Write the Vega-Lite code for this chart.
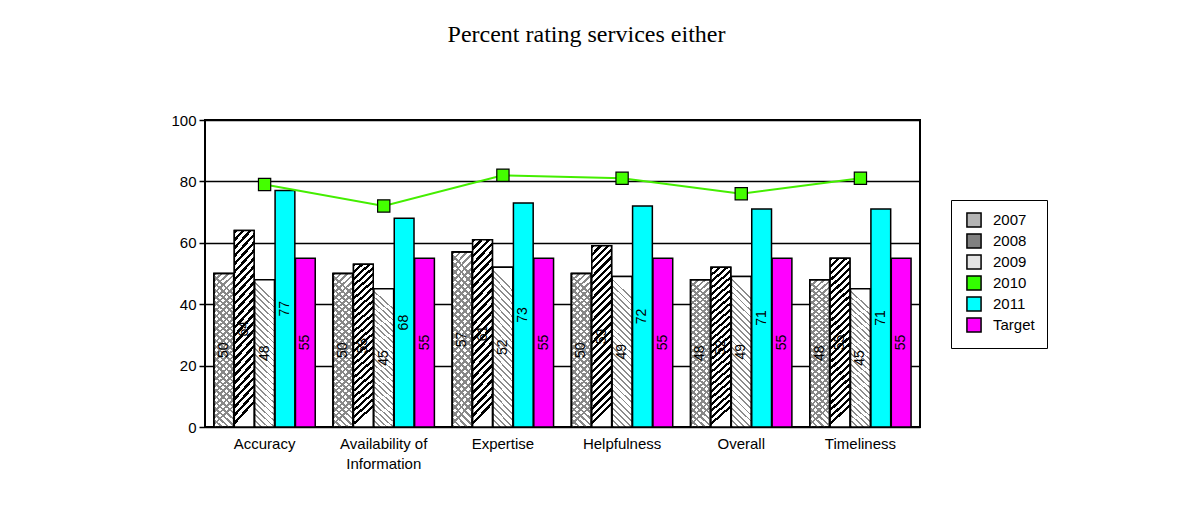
{
  "$schema": "https://vega.github.io/schema/vega-lite/v6.json",
  "width": 715,
  "height": 307,
  "autosize": {"type": "none"},
  "padding": {"left": 205, "top": 120, "right": 262, "bottom": 99},
  "background": "white",
  "title": {"text": "Percent rating services either", "font": "Liberation Serif", "fontSize": 24, "fontWeight": "normal", "color": "black", "anchor": "middle", "frame": "group", "dx": 24, "offset": 47, "baseline": "alphabetic"},
  "data": {"values": [
    {"category": "Accuracy", "series": "2007", "value": 50},
    {"category": "Accuracy", "series": "2008", "value": 64},
    {"category": "Accuracy", "series": "2009", "value": 48},
    {"category": "Accuracy", "series": "2010", "value": 79},
    {"category": "Accuracy", "series": "2011", "value": 77},
    {"category": "Accuracy", "series": "Target", "value": 55},
    {"category": "Availability of Information", "series": "2007", "value": 50},
    {"category": "Availability of Information", "series": "2008", "value": 53},
    {"category": "Availability of Information", "series": "2009", "value": 45},
    {"category": "Availability of Information", "series": "2010", "value": 72},
    {"category": "Availability of Information", "series": "2011", "value": 68},
    {"category": "Availability of Information", "series": "Target", "value": 55},
    {"category": "Expertise", "series": "2007", "value": 57},
    {"category": "Expertise", "series": "2008", "value": 61},
    {"category": "Expertise", "series": "2009", "value": 52},
    {"category": "Expertise", "series": "2010", "value": 82},
    {"category": "Expertise", "series": "2011", "value": 73},
    {"category": "Expertise", "series": "Target", "value": 55},
    {"category": "Helpfulness", "series": "2007", "value": 50},
    {"category": "Helpfulness", "series": "2008", "value": 59},
    {"category": "Helpfulness", "series": "2009", "value": 49},
    {"category": "Helpfulness", "series": "2010", "value": 81},
    {"category": "Helpfulness", "series": "2011", "value": 72},
    {"category": "Helpfulness", "series": "Target", "value": 55},
    {"category": "Overall", "series": "2007", "value": 48},
    {"category": "Overall", "series": "2008", "value": 52},
    {"category": "Overall", "series": "2009", "value": 49},
    {"category": "Overall", "series": "2010", "value": 76},
    {"category": "Overall", "series": "2011", "value": 71},
    {"category": "Overall", "series": "Target", "value": 55},
    {"category": "Timeliness", "series": "2007", "value": 48},
    {"category": "Timeliness", "series": "2008", "value": 55},
    {"category": "Timeliness", "series": "2009", "value": 45},
    {"category": "Timeliness", "series": "2010", "value": 81},
    {"category": "Timeliness", "series": "2011", "value": 71},
    {"category": "Timeliness", "series": "Target", "value": 55}
  ]},
  "encoding": {
    "x": {
      "field": "category", "type": "nominal",
      "sort": ["Accuracy", "Availability of Information", "Expertise", "Helpfulness", "Overall", "Timeliness"],
      "scale": {"paddingInner": 0.15, "paddingOuter": 0.075},
      "axis": {"title": null, "labelAngle": 0, "ticks": false, "domain": false, "labelPadding": 9, "labelLineHeight": 20,
               "labelExpr": "datum.value == 'Availability of Information' ? ['Availability of', 'Information'] : datum.value"}
    }
  },
  "layer": [
    {
      "layer": [
        {
          "transform": [{"filter": "datum.series != '2010'"}],
          "mark": {"type": "bar", "stroke": "black", "strokeWidth": 1.5},
          "encoding": {
            "xOffset": {"field": "series", "type": "nominal", "scale": {"domain": ["2007", "2008", "2009", "2011", "Target"], "paddingInner": 0.03}},
            "y": {"field": "value", "type": "quantitative", "scale": {"domain": [0, 100], "nice": false},
                  "axis": {"title": null, "values": [0, 20, 40, 60, 80, 100], "grid": true, "gridColor": "black", "gridWidth": 1.5, "gridOpacity": 1, "tickSize": 6, "tickWidth": 1.5, "tickColor": "black", "domain": false, "labelPadding": 3}},
            "color": {"field": "series", "type": "nominal",
              "scale": {"domain": ["2007", "2008", "2009", "2010", "2011", "Target"], "range": ["#b4b4b4", "#808080", "#e4e4e4", "#33ff00", "#00ffff", "#ff00ff"]},
              "legend": {"title": null, "orient": "none", "legendX": 746, "legendY": 80, "symbolType": "square", "symbolSize": 200, "symbolStrokeColor": "black", "symbolStrokeWidth": 1.5, "symbolOpacity": 1, "symbolOffset": 3, "labelFontSize": 15, "labelFont": "Liberation Sans", "labelColor": "black", "labelOffset": 11, "rowPadding": -1, "padding": 12, "strokeColor": "black",
                         "labelExpr": "datum.label + '\u00a0\u00a0\u00a0\u00a0'"}}
          }
        },
        {
          "transform": [{"filter": "datum.series == '2007'"}],
          "mark": {"type": "bar", "stroke": "black", "strokeWidth": 1.5,
            "fill": {"gradient": "linear", "x1": 0, "y1": 0, "x2": 0.12, "y2": 1, "stops": [
              {"offset": 0, "color": "#888"}, {"offset": 0.016, "color": "#888"}, {"offset": 0.016, "color": "#fff"}, {"offset": 0.04, "color": "#fff"},
              {"offset": 0.04, "color": "#888"}, {"offset": 0.056, "color": "#888"}, {"offset": 0.056, "color": "#fff"}, {"offset": 0.08, "color": "#fff"},
              {"offset": 0.08, "color": "#888"}, {"offset": 0.096, "color": "#888"}, {"offset": 0.096, "color": "#fff"}, {"offset": 0.12, "color": "#fff"},
              {"offset": 0.12, "color": "#888"}, {"offset": 0.136, "color": "#888"}, {"offset": 0.136, "color": "#fff"}, {"offset": 0.16, "color": "#fff"},
              {"offset": 0.16, "color": "#888"}, {"offset": 0.176, "color": "#888"}, {"offset": 0.176, "color": "#fff"}, {"offset": 0.2, "color": "#fff"},
              {"offset": 0.2, "color": "#888"}, {"offset": 0.216, "color": "#888"}, {"offset": 0.216, "color": "#fff"}, {"offset": 0.24, "color": "#fff"},
              {"offset": 0.24, "color": "#888"}, {"offset": 0.256, "color": "#888"}, {"offset": 0.256, "color": "#fff"}, {"offset": 0.28, "color": "#fff"},
              {"offset": 0.28, "color": "#888"}, {"offset": 0.296, "color": "#888"}, {"offset": 0.296, "color": "#fff"}, {"offset": 0.32, "color": "#fff"},
              {"offset": 0.32, "color": "#888"}, {"offset": 0.336, "color": "#888"}, {"offset": 0.336, "color": "#fff"}, {"offset": 0.36, "color": "#fff"},
              {"offset": 0.36, "color": "#888"}, {"offset": 0.376, "color": "#888"}, {"offset": 0.376, "color": "#fff"}, {"offset": 0.4, "color": "#fff"},
              {"offset": 0.4, "color": "#888"}, {"offset": 0.416, "color": "#888"}, {"offset": 0.416, "color": "#fff"}, {"offset": 0.44, "color": "#fff"},
              {"offset": 0.44, "color": "#888"}, {"offset": 0.456, "color": "#888"}, {"offset": 0.456, "color": "#fff"}, {"offset": 0.48, "color": "#fff"},
              {"offset": 0.48, "color": "#888"}, {"offset": 0.496, "color": "#888"}, {"offset": 0.496, "color": "#fff"}, {"offset": 0.52, "color": "#fff"},
              {"offset": 0.52, "color": "#888"}, {"offset": 0.536, "color": "#888"}, {"offset": 0.536, "color": "#fff"}, {"offset": 0.56, "color": "#fff"},
              {"offset": 0.56, "color": "#888"}, {"offset": 0.576, "color": "#888"}, {"offset": 0.576, "color": "#fff"}, {"offset": 0.6, "color": "#fff"},
              {"offset": 0.6, "color": "#888"}, {"offset": 0.616, "color": "#888"}, {"offset": 0.616, "color": "#fff"}, {"offset": 0.64, "color": "#fff"},
              {"offset": 0.64, "color": "#888"}, {"offset": 0.656, "color": "#888"}, {"offset": 0.656, "color": "#fff"}, {"offset": 0.68, "color": "#fff"},
              {"offset": 0.68, "color": "#888"}, {"offset": 0.696, "color": "#888"}, {"offset": 0.696, "color": "#fff"}, {"offset": 0.72, "color": "#fff"},
              {"offset": 0.72, "color": "#888"}, {"offset": 0.736, "color": "#888"}, {"offset": 0.736, "color": "#fff"}, {"offset": 0.76, "color": "#fff"},
              {"offset": 0.76, "color": "#888"}, {"offset": 0.776, "color": "#888"}, {"offset": 0.776, "color": "#fff"}, {"offset": 0.8, "color": "#fff"},
              {"offset": 0.8, "color": "#888"}, {"offset": 0.816, "color": "#888"}, {"offset": 0.816, "color": "#fff"}, {"offset": 0.84, "color": "#fff"},
              {"offset": 0.84, "color": "#888"}, {"offset": 0.856, "color": "#888"}, {"offset": 0.856, "color": "#fff"}, {"offset": 0.88, "color": "#fff"},
              {"offset": 0.88, "color": "#888"}, {"offset": 0.896, "color": "#888"}, {"offset": 0.896, "color": "#fff"}, {"offset": 0.92, "color": "#fff"},
              {"offset": 0.92, "color": "#888"}, {"offset": 0.936, "color": "#888"}, {"offset": 0.936, "color": "#fff"}, {"offset": 0.96, "color": "#fff"},
              {"offset": 0.96, "color": "#888"}, {"offset": 0.976, "color": "#888"}, {"offset": 0.976, "color": "#fff"}, {"offset": 1, "color": "#fff"}
            ]}},
          "encoding": {
            "xOffset": {"field": "series", "type": "nominal"},
            "y": {"field": "value", "type": "quantitative"}
          }
        },
        {
          "transform": [{"filter": "datum.series == '2007'"}],
          "mark": {"type": "bar", "stroke": "black", "strokeWidth": 1.5,
            "fill": {"gradient": "linear", "x1": 0, "y1": 1, "x2": 0.12, "y2": 0, "stops": [
              {"offset": 0, "color": "#888"}, {"offset": 0.016, "color": "#888"}, {"offset": 0.016, "color": "transparent"}, {"offset": 0.04, "color": "transparent"},
              {"offset": 0.04, "color": "#888"}, {"offset": 0.056, "color": "#888"}, {"offset": 0.056, "color": "transparent"}, {"offset": 0.08, "color": "transparent"},
              {"offset": 0.08, "color": "#888"}, {"offset": 0.096, "color": "#888"}, {"offset": 0.096, "color": "transparent"}, {"offset": 0.12, "color": "transparent"},
              {"offset": 0.12, "color": "#888"}, {"offset": 0.136, "color": "#888"}, {"offset": 0.136, "color": "transparent"}, {"offset": 0.16, "color": "transparent"},
              {"offset": 0.16, "color": "#888"}, {"offset": 0.176, "color": "#888"}, {"offset": 0.176, "color": "transparent"}, {"offset": 0.2, "color": "transparent"},
              {"offset": 0.2, "color": "#888"}, {"offset": 0.216, "color": "#888"}, {"offset": 0.216, "color": "transparent"}, {"offset": 0.24, "color": "transparent"},
              {"offset": 0.24, "color": "#888"}, {"offset": 0.256, "color": "#888"}, {"offset": 0.256, "color": "transparent"}, {"offset": 0.28, "color": "transparent"},
              {"offset": 0.28, "color": "#888"}, {"offset": 0.296, "color": "#888"}, {"offset": 0.296, "color": "transparent"}, {"offset": 0.32, "color": "transparent"},
              {"offset": 0.32, "color": "#888"}, {"offset": 0.336, "color": "#888"}, {"offset": 0.336, "color": "transparent"}, {"offset": 0.36, "color": "transparent"},
              {"offset": 0.36, "color": "#888"}, {"offset": 0.376, "color": "#888"}, {"offset": 0.376, "color": "transparent"}, {"offset": 0.4, "color": "transparent"},
              {"offset": 0.4, "color": "#888"}, {"offset": 0.416, "color": "#888"}, {"offset": 0.416, "color": "transparent"}, {"offset": 0.44, "color": "transparent"},
              {"offset": 0.44, "color": "#888"}, {"offset": 0.456, "color": "#888"}, {"offset": 0.456, "color": "transparent"}, {"offset": 0.48, "color": "transparent"},
              {"offset": 0.48, "color": "#888"}, {"offset": 0.496, "color": "#888"}, {"offset": 0.496, "color": "transparent"}, {"offset": 0.52, "color": "transparent"},
              {"offset": 0.52, "color": "#888"}, {"offset": 0.536, "color": "#888"}, {"offset": 0.536, "color": "transparent"}, {"offset": 0.56, "color": "transparent"},
              {"offset": 0.56, "color": "#888"}, {"offset": 0.576, "color": "#888"}, {"offset": 0.576, "color": "transparent"}, {"offset": 0.6, "color": "transparent"},
              {"offset": 0.6, "color": "#888"}, {"offset": 0.616, "color": "#888"}, {"offset": 0.616, "color": "transparent"}, {"offset": 0.64, "color": "transparent"},
              {"offset": 0.64, "color": "#888"}, {"offset": 0.656, "color": "#888"}, {"offset": 0.656, "color": "transparent"}, {"offset": 0.68, "color": "transparent"},
              {"offset": 0.68, "color": "#888"}, {"offset": 0.696, "color": "#888"}, {"offset": 0.696, "color": "transparent"}, {"offset": 0.72, "color": "transparent"},
              {"offset": 0.72, "color": "#888"}, {"offset": 0.736, "color": "#888"}, {"offset": 0.736, "color": "transparent"}, {"offset": 0.76, "color": "transparent"},
              {"offset": 0.76, "color": "#888"}, {"offset": 0.776, "color": "#888"}, {"offset": 0.776, "color": "transparent"}, {"offset": 0.8, "color": "transparent"},
              {"offset": 0.8, "color": "#888"}, {"offset": 0.816, "color": "#888"}, {"offset": 0.816, "color": "transparent"}, {"offset": 0.84, "color": "transparent"},
              {"offset": 0.84, "color": "#888"}, {"offset": 0.856, "color": "#888"}, {"offset": 0.856, "color": "transparent"}, {"offset": 0.88, "color": "transparent"},
              {"offset": 0.88, "color": "#888"}, {"offset": 0.896, "color": "#888"}, {"offset": 0.896, "color": "transparent"}, {"offset": 0.92, "color": "transparent"},
              {"offset": 0.92, "color": "#888"}, {"offset": 0.936, "color": "#888"}, {"offset": 0.936, "color": "transparent"}, {"offset": 0.96, "color": "transparent"},
              {"offset": 0.96, "color": "#888"}, {"offset": 0.976, "color": "#888"}, {"offset": 0.976, "color": "transparent"}, {"offset": 1, "color": "transparent"}
            ]}},
          "encoding": {
            "xOffset": {"field": "series", "type": "nominal"},
            "y": {"field": "value", "type": "quantitative"}
          }
        },
        {
          "transform": [{"filter": "datum.series == '2008'"}],
          "mark": {"type": "bar", "stroke": "black", "strokeWidth": 1.5,
            "fill": {"gradient": "linear", "x1": 0, "y1": 0, "x2": 0.11, "y2": 1, "stops": [
              {"offset": 0, "color": "#000"}, {"offset": 0.018, "color": "#000"}, {"offset": 0.018, "color": "#fff"}, {"offset": 0.04, "color": "#fff"},
              {"offset": 0.04, "color": "#000"}, {"offset": 0.058, "color": "#000"}, {"offset": 0.058, "color": "#fff"}, {"offset": 0.08, "color": "#fff"},
              {"offset": 0.08, "color": "#000"}, {"offset": 0.098, "color": "#000"}, {"offset": 0.098, "color": "#fff"}, {"offset": 0.12, "color": "#fff"},
              {"offset": 0.12, "color": "#000"}, {"offset": 0.138, "color": "#000"}, {"offset": 0.138, "color": "#fff"}, {"offset": 0.16, "color": "#fff"},
              {"offset": 0.16, "color": "#000"}, {"offset": 0.178, "color": "#000"}, {"offset": 0.178, "color": "#fff"}, {"offset": 0.2, "color": "#fff"},
              {"offset": 0.2, "color": "#000"}, {"offset": 0.218, "color": "#000"}, {"offset": 0.218, "color": "#fff"}, {"offset": 0.24, "color": "#fff"},
              {"offset": 0.24, "color": "#000"}, {"offset": 0.258, "color": "#000"}, {"offset": 0.258, "color": "#fff"}, {"offset": 0.28, "color": "#fff"},
              {"offset": 0.28, "color": "#000"}, {"offset": 0.298, "color": "#000"}, {"offset": 0.298, "color": "#fff"}, {"offset": 0.32, "color": "#fff"},
              {"offset": 0.32, "color": "#000"}, {"offset": 0.338, "color": "#000"}, {"offset": 0.338, "color": "#fff"}, {"offset": 0.36, "color": "#fff"},
              {"offset": 0.36, "color": "#000"}, {"offset": 0.378, "color": "#000"}, {"offset": 0.378, "color": "#fff"}, {"offset": 0.4, "color": "#fff"},
              {"offset": 0.4, "color": "#000"}, {"offset": 0.418, "color": "#000"}, {"offset": 0.418, "color": "#fff"}, {"offset": 0.44, "color": "#fff"},
              {"offset": 0.44, "color": "#000"}, {"offset": 0.458, "color": "#000"}, {"offset": 0.458, "color": "#fff"}, {"offset": 0.48, "color": "#fff"},
              {"offset": 0.48, "color": "#000"}, {"offset": 0.498, "color": "#000"}, {"offset": 0.498, "color": "#fff"}, {"offset": 0.52, "color": "#fff"},
              {"offset": 0.52, "color": "#000"}, {"offset": 0.538, "color": "#000"}, {"offset": 0.538, "color": "#fff"}, {"offset": 0.56, "color": "#fff"},
              {"offset": 0.56, "color": "#000"}, {"offset": 0.578, "color": "#000"}, {"offset": 0.578, "color": "#fff"}, {"offset": 0.6, "color": "#fff"},
              {"offset": 0.6, "color": "#000"}, {"offset": 0.618, "color": "#000"}, {"offset": 0.618, "color": "#fff"}, {"offset": 0.64, "color": "#fff"},
              {"offset": 0.64, "color": "#000"}, {"offset": 0.658, "color": "#000"}, {"offset": 0.658, "color": "#fff"}, {"offset": 0.68, "color": "#fff"},
              {"offset": 0.68, "color": "#000"}, {"offset": 0.698, "color": "#000"}, {"offset": 0.698, "color": "#fff"}, {"offset": 0.72, "color": "#fff"},
              {"offset": 0.72, "color": "#000"}, {"offset": 0.738, "color": "#000"}, {"offset": 0.738, "color": "#fff"}, {"offset": 0.76, "color": "#fff"},
              {"offset": 0.76, "color": "#000"}, {"offset": 0.778, "color": "#000"}, {"offset": 0.778, "color": "#fff"}, {"offset": 0.8, "color": "#fff"},
              {"offset": 0.8, "color": "#000"}, {"offset": 0.818, "color": "#000"}, {"offset": 0.818, "color": "#fff"}, {"offset": 0.84, "color": "#fff"},
              {"offset": 0.84, "color": "#000"}, {"offset": 0.858, "color": "#000"}, {"offset": 0.858, "color": "#fff"}, {"offset": 0.88, "color": "#fff"},
              {"offset": 0.88, "color": "#000"}, {"offset": 0.898, "color": "#000"}, {"offset": 0.898, "color": "#fff"}, {"offset": 0.92, "color": "#fff"},
              {"offset": 0.92, "color": "#000"}, {"offset": 0.938, "color": "#000"}, {"offset": 0.938, "color": "#fff"}, {"offset": 0.96, "color": "#fff"},
              {"offset": 0.96, "color": "#000"}, {"offset": 0.978, "color": "#000"}, {"offset": 0.978, "color": "#fff"}, {"offset": 1, "color": "#fff"}
            ]}},
          "encoding": {
            "xOffset": {"field": "series", "type": "nominal"},
            "y": {"field": "value", "type": "quantitative"}
          }
        },
        {
          "transform": [{"filter": "datum.series == '2009'"}],
          "mark": {"type": "bar", "stroke": "black", "strokeWidth": 1.5,
            "fill": {"gradient": "linear", "x1": 0, "y1": 1, "x2": 0.13, "y2": 0, "stops": [
              {"offset": 0, "color": "#8c8c8c"}, {"offset": 0.012, "color": "#8c8c8c"}, {"offset": 0.012, "color": "#fff"}, {"offset": 0.04, "color": "#fff"},
              {"offset": 0.04, "color": "#8c8c8c"}, {"offset": 0.052, "color": "#8c8c8c"}, {"offset": 0.052, "color": "#fff"}, {"offset": 0.08, "color": "#fff"},
              {"offset": 0.08, "color": "#8c8c8c"}, {"offset": 0.092, "color": "#8c8c8c"}, {"offset": 0.092, "color": "#fff"}, {"offset": 0.12, "color": "#fff"},
              {"offset": 0.12, "color": "#8c8c8c"}, {"offset": 0.132, "color": "#8c8c8c"}, {"offset": 0.132, "color": "#fff"}, {"offset": 0.16, "color": "#fff"},
              {"offset": 0.16, "color": "#8c8c8c"}, {"offset": 0.172, "color": "#8c8c8c"}, {"offset": 0.172, "color": "#fff"}, {"offset": 0.2, "color": "#fff"},
              {"offset": 0.2, "color": "#8c8c8c"}, {"offset": 0.212, "color": "#8c8c8c"}, {"offset": 0.212, "color": "#fff"}, {"offset": 0.24, "color": "#fff"},
              {"offset": 0.24, "color": "#8c8c8c"}, {"offset": 0.252, "color": "#8c8c8c"}, {"offset": 0.252, "color": "#fff"}, {"offset": 0.28, "color": "#fff"},
              {"offset": 0.28, "color": "#8c8c8c"}, {"offset": 0.292, "color": "#8c8c8c"}, {"offset": 0.292, "color": "#fff"}, {"offset": 0.32, "color": "#fff"},
              {"offset": 0.32, "color": "#8c8c8c"}, {"offset": 0.332, "color": "#8c8c8c"}, {"offset": 0.332, "color": "#fff"}, {"offset": 0.36, "color": "#fff"},
              {"offset": 0.36, "color": "#8c8c8c"}, {"offset": 0.372, "color": "#8c8c8c"}, {"offset": 0.372, "color": "#fff"}, {"offset": 0.4, "color": "#fff"},
              {"offset": 0.4, "color": "#8c8c8c"}, {"offset": 0.412, "color": "#8c8c8c"}, {"offset": 0.412, "color": "#fff"}, {"offset": 0.44, "color": "#fff"},
              {"offset": 0.44, "color": "#8c8c8c"}, {"offset": 0.452, "color": "#8c8c8c"}, {"offset": 0.452, "color": "#fff"}, {"offset": 0.48, "color": "#fff"},
              {"offset": 0.48, "color": "#8c8c8c"}, {"offset": 0.492, "color": "#8c8c8c"}, {"offset": 0.492, "color": "#fff"}, {"offset": 0.52, "color": "#fff"},
              {"offset": 0.52, "color": "#8c8c8c"}, {"offset": 0.532, "color": "#8c8c8c"}, {"offset": 0.532, "color": "#fff"}, {"offset": 0.56, "color": "#fff"},
              {"offset": 0.56, "color": "#8c8c8c"}, {"offset": 0.572, "color": "#8c8c8c"}, {"offset": 0.572, "color": "#fff"}, {"offset": 0.6, "color": "#fff"},
              {"offset": 0.6, "color": "#8c8c8c"}, {"offset": 0.612, "color": "#8c8c8c"}, {"offset": 0.612, "color": "#fff"}, {"offset": 0.64, "color": "#fff"},
              {"offset": 0.64, "color": "#8c8c8c"}, {"offset": 0.652, "color": "#8c8c8c"}, {"offset": 0.652, "color": "#fff"}, {"offset": 0.68, "color": "#fff"},
              {"offset": 0.68, "color": "#8c8c8c"}, {"offset": 0.692, "color": "#8c8c8c"}, {"offset": 0.692, "color": "#fff"}, {"offset": 0.72, "color": "#fff"},
              {"offset": 0.72, "color": "#8c8c8c"}, {"offset": 0.732, "color": "#8c8c8c"}, {"offset": 0.732, "color": "#fff"}, {"offset": 0.76, "color": "#fff"},
              {"offset": 0.76, "color": "#8c8c8c"}, {"offset": 0.772, "color": "#8c8c8c"}, {"offset": 0.772, "color": "#fff"}, {"offset": 0.8, "color": "#fff"},
              {"offset": 0.8, "color": "#8c8c8c"}, {"offset": 0.812, "color": "#8c8c8c"}, {"offset": 0.812, "color": "#fff"}, {"offset": 0.84, "color": "#fff"},
              {"offset": 0.84, "color": "#8c8c8c"}, {"offset": 0.852, "color": "#8c8c8c"}, {"offset": 0.852, "color": "#fff"}, {"offset": 0.88, "color": "#fff"},
              {"offset": 0.88, "color": "#8c8c8c"}, {"offset": 0.892, "color": "#8c8c8c"}, {"offset": 0.892, "color": "#fff"}, {"offset": 0.92, "color": "#fff"},
              {"offset": 0.92, "color": "#8c8c8c"}, {"offset": 0.932, "color": "#8c8c8c"}, {"offset": 0.932, "color": "#fff"}, {"offset": 0.96, "color": "#fff"},
              {"offset": 0.96, "color": "#8c8c8c"}, {"offset": 0.972, "color": "#8c8c8c"}, {"offset": 0.972, "color": "#fff"}, {"offset": 1, "color": "#fff"}
            ]}},
          "encoding": {
            "xOffset": {"field": "series", "type": "nominal"},
            "y": {"field": "value", "type": "quantitative"}
          }
        },
        {
          "transform": [{"filter": "datum.series == '2010'"}],
          "mark": {"type": "line", "color": "#44ee00", "strokeWidth": 2,
                   "point": {"shape": "square", "size": 150, "filled": true, "fill": "#44ff00", "stroke": "black", "strokeWidth": 1.2, "opacity": 1}},
          "encoding": {
            "y": {"field": "value", "type": "quantitative"}
          }
        }
      ]
    },
    {
      "transform": [{"filter": "datum.series != '2010'"}],
      "mark": {"type": "text", "angle": 270, "font": "Liberation Sans", "fontSize": 14, "color": "black", "align": "center", "baseline": "middle"},
      "encoding": {
        "xOffset": {"field": "series", "type": "nominal"},
        "y": {"field": "value", "type": "quantitative", "scale": {"domain": [0, 200], "nice": false}, "axis": null},
        "text": {"field": "value", "type": "quantitative"}
      }
    }
  ],
  "resolve": {"scale": {"y": "independent"}},
  "config": {
    "view": {"stroke": "black", "strokeWidth": 2},
    "axis": {"labelFont": "Liberation Sans", "labelFontSize": 15, "labelColor": "black", "domainColor": "black", "tickColor": "black"},
    "legend": {"labelFont": "Liberation Sans"}
  }
}
